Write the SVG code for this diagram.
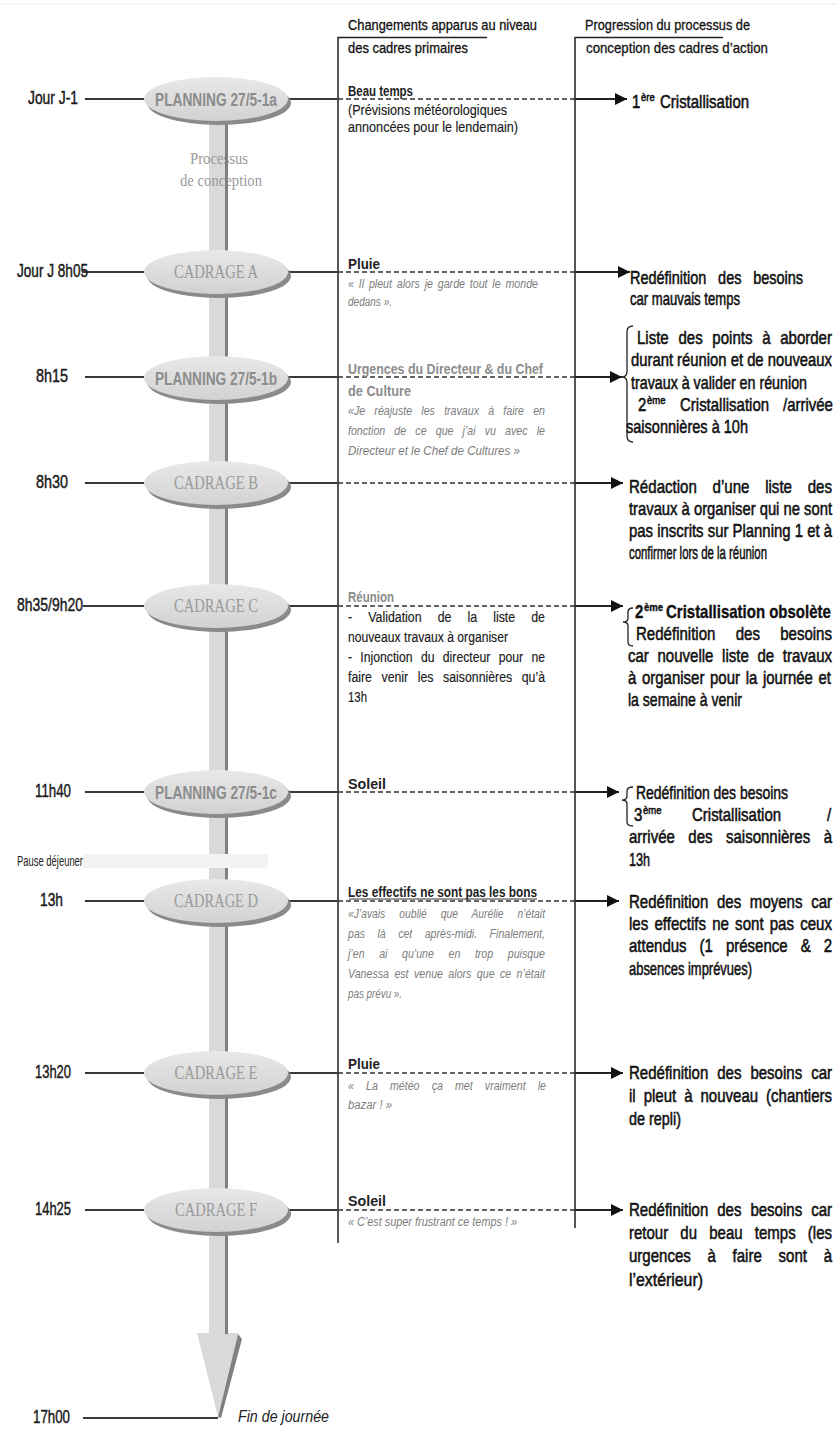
<svg xmlns="http://www.w3.org/2000/svg" width="837" height="1451" viewBox="0 0 837 1451">
<style>
text{font-family:"Liberation Sans",Arial,sans-serif}
.lbl{font-size:18px;fill:#1a1a1a;stroke:#1a1a1a;stroke-width:0.45}
.hdr{font-size:15px;fill:#111;stroke:#111;stroke-width:0.3}
.mid{font-size:14px;fill:#1a1a1a;stroke:#1a1a1a;stroke-width:0.15}
.midb{font-size:14px;fill:#222;font-weight:bold}
.gryb{font-size:14px;fill:#8c8c8c;font-weight:bold}
.quo{font-size:12.5px;fill:#7d7d7d;font-style:italic}
.rt{font-size:15px;fill:#111;stroke:#111;stroke-width:0.45}
.rtb{font-size:15px;fill:#111;font-weight:bold;stroke:#111;stroke-width:0.3}
.sup{font-size:9.5px}
.pl{font-size:18px;fill:#8c8c8c;font-weight:bold}
.cd{font-family:"Liberation Serif",serif;font-size:18px;fill:#9a9a9a}
.proc{font-family:"Liberation Serif",serif;font-size:16px;fill:#9a9a9a}
.ln{stroke:#3a3a3a;stroke-width:2;fill:none}
.dash{stroke:#333;stroke-width:1.5;stroke-dasharray:5 3;fill:none}
.col{stroke:#222;stroke-width:1.5;fill:none}
.arr{stroke:#222;stroke-width:2;fill:none;marker-end:url(#ah)}
.br{stroke:#222;stroke-width:1.3;fill:none}
.sh{fill:#8a8a8a}
.el{fill:url(#eg)}
</style>
<defs>
<linearGradient id="eg" x1="0" y1="0" x2="0" y2="1">
<stop offset="0" stop-color="#e8e8e8"/>
<stop offset="1" stop-color="#d2d2d2"/>
</linearGradient>
<marker id="ah" markerUnits="userSpaceOnUse" markerWidth="14" markerHeight="12" refX="12" refY="6" orient="auto">
<path d="M0,0 L12,6 L0,12 Z" fill="#111"/>
</marker>
</defs>
<rect width="837" height="1451" fill="#fff"/>
<line x1="0" y1="4" x2="837" y2="4" stroke="#ececec" stroke-width="1"/>

<g id="columns">
<path class="col" d="M338,1243 V37.5 H487"/>
<path class="col" d="M575,1228 V37.5 H723"/>
<text class="hdr" x="348" y="30" textLength="189" lengthAdjust="spacingAndGlyphs">Changements apparus au niveau</text>
<text class="hdr" x="348" y="53" textLength="120" lengthAdjust="spacingAndGlyphs">des cadres primaires</text>
<text class="hdr" x="585" y="30" textLength="165" lengthAdjust="spacingAndGlyphs">Progression du processus de</text>
<text class="hdr" x="586" y="53" textLength="182" lengthAdjust="spacingAndGlyphs">conception des cadres d’action</text>
</g>

<g id="trunk">
<rect x="209" y="105" width="16" height="1229" fill="#d9d9d9"/>
<polygon points="197,1333 238,1333 218,1417" fill="#d9d9d9"/>
<polygon points="238,1334 242,1339 221,1418 218,1417" fill="#808080"/>
<text class="proc" x="219" y="164" text-anchor="middle" textLength="58" lengthAdjust="spacingAndGlyphs">Processus</text>
<text class="proc" x="221" y="186" text-anchor="middle" textLength="82" lengthAdjust="spacingAndGlyphs">de conception</text>
<rect x="225" y="110" width="3" height="1224" fill="#808080"/>
<rect x="83" y="854" width="185" height="14" fill="#f3f3f3"/>
<text x="17" y="866" font-size="15" fill="#222" textLength="66" lengthAdjust="spacingAndGlyphs">Pause déjeuner</text>
</g>

<g id="connectors">
<path class="ln" d="M85,99 H144 M288,99 H338"/>
<path class="dash" d="M338,99 H575"/>
<path class="arr" d="M575,99 H627"/>
<path class="ln" d="M82,272 H144 M288,272 H338"/>
<path class="dash" d="M338,272 H575"/>
<path class="arr" d="M575,272 H630"/>
<path class="ln" d="M85,377 H144 M288,377 H338"/>
<path class="dash" d="M338,377 H575"/>
<path class="arr" d="M575,377 H622"/>
<path class="ln" d="M85,483 H144 M288,483 H338"/>
<path class="dash" d="M338,483 H575"/>
<path class="arr" d="M575,483 H623"/>
<path class="ln" d="M83,606 H144 M288,606 H338"/>
<path class="dash" d="M338,606 H575"/>
<path class="arr" d="M575,606 H623"/>
<path class="ln" d="M85,792 H144 M288,792 H338"/>
<path class="dash" d="M338,792 H575"/>
<path class="arr" d="M575,792 H619"/>
<path class="ln" d="M85,901 H144 M288,901 H338"/>
<path class="dash" d="M338,901 H575"/>
<path class="arr" d="M575,901 H619"/>
<path class="ln" d="M85,1073 H144 M288,1073 H338"/>
<path class="dash" d="M338,1073 H575"/>
<path class="arr" d="M575,1073 H623"/>
<path class="ln" d="M85,1210 H144 M288,1210 H338"/>
<path class="dash" d="M338,1210 H575"/>
<path class="arr" d="M575,1210 H623"/>
<path class="ln" d="M83,1418 H218"/>
<path class="br" d="M633,326 Q627,326 627,332 V371 Q627,377 622,377 Q627,377 627,383 V436 Q627,442 633,442"/>
<path class="br" d="M633,608 Q628,608 628,612 V618 Q628,622 623,622 Q628,622 628,626 V642 Q628,646 633,646"/>
<path class="br" d="M633,787 Q627,787 627,791 V796 Q627,800 622,800 Q627,800 627,804 V822 Q627,826 633,826"/>
<path d="M349,899 H537" stroke="#333" stroke-width="1"/>
</g>

<g id="n-planning-1a">
<ellipse class="sh" cx="219" cy="103" rx="72" ry="22"/>
<ellipse class="el" cx="216" cy="99" rx="72" ry="22"/>
<text class="pl" x="216" y="106" text-anchor="middle" textLength="122" lengthAdjust="spacingAndGlyphs">PLANNING 27/5-1a</text>
<text class="lbl" x="28" y="104" textLength="50" lengthAdjust="spacingAndGlyphs">Jour J-1</text>
<text class="midb" x="348" y="96" textLength="65" lengthAdjust="spacingAndGlyphs">Beau temps</text>
<text class="mid" x="348" y="115" textLength="159" lengthAdjust="spacingAndGlyphs">(Prévisions météorologiques</text>
<text class="mid" x="348" y="132" textLength="170" lengthAdjust="spacingAndGlyphs">annoncées pour le lendemain)</text>
<text class="rt" y="0" transform="translate(0 108) scale(1 1.2)"><tspan x="632">1</tspan><tspan class="sup" x="641" dy="-5.5">ère</tspan><tspan x="660" dy="5.5">Cristallisation</tspan></text>
</g>

<g id="n-cadrage-a">
<ellipse class="sh" cx="219" cy="276" rx="72" ry="22"/>
<ellipse class="el" cx="216" cy="272" rx="72" ry="22"/>
<text class="cd" x="216" y="278" text-anchor="middle" textLength="84" lengthAdjust="spacingAndGlyphs">CADRAGE A</text>
<text class="lbl" x="17" y="277" textLength="71" lengthAdjust="spacingAndGlyphs">Jour J 8h05</text>
<text class="midb" x="348" y="269" textLength="32" lengthAdjust="spacingAndGlyphs">Pluie</text>
<text class="quo" x="348" y="288" word-spacing="2.2" textLength="190" lengthAdjust="spacingAndGlyphs">« Il pleut alors je garde tout le monde</text>
<text class="quo" x="348" y="306" textLength="44" lengthAdjust="spacingAndGlyphs">dedans ».</text>
<text class="rt" x="630" y="0" transform="translate(0 284) scale(1 1.2)" word-spacing="8" textLength="173" lengthAdjust="spacingAndGlyphs">Redéfinition des besoins</text>
<text class="rt" x="630" y="0" transform="translate(0 305) scale(1 1.2)" textLength="110" lengthAdjust="spacingAndGlyphs">car mauvais temps</text>
</g>

<g id="n-planning-1b">
<ellipse class="sh" cx="219" cy="382" rx="72" ry="22"/>
<ellipse class="el" cx="216" cy="378" rx="72" ry="22"/>
<text class="pl" x="216" y="385" text-anchor="middle" textLength="122" lengthAdjust="spacingAndGlyphs">PLANNING 27/5-1b</text>
<text class="lbl" x="36" y="382" textLength="32" lengthAdjust="spacingAndGlyphs">8h15</text>
<text class="gryb" x="348" y="374" textLength="195" lengthAdjust="spacingAndGlyphs">Urgences du Directeur &amp; du Chef</text>
<text class="gryb" x="348" y="396" textLength="63" lengthAdjust="spacingAndGlyphs">de Culture</text>
<text class="quo" x="348" y="415" word-spacing="7.4" textLength="197" lengthAdjust="spacingAndGlyphs">«Je réajuste les travaux à faire en</text>
<text class="quo" x="348" y="435" word-spacing="7.3" textLength="197" lengthAdjust="spacingAndGlyphs">fonction de ce que j’ai vu avec le</text>
<text class="quo" x="348" y="455" textLength="172" lengthAdjust="spacingAndGlyphs">Directeur et le Chef de Cultures »</text>
<text class="rt" x="637" y="0" transform="translate(0 344) scale(1 1.2)" word-spacing="5.5" textLength="195" lengthAdjust="spacingAndGlyphs">Liste des points à aborder</text>
<text class="rt" x="631" y="0" transform="translate(0 366) scale(1 1.2)" textLength="201" lengthAdjust="spacingAndGlyphs">durant réunion et de nouveaux</text>
<text class="rt" x="631" y="0" transform="translate(0 389) scale(1 1.2)" textLength="176" lengthAdjust="spacingAndGlyphs">travaux à valider en réunion</text>
<text class="rt" y="0" transform="translate(0 411) scale(1 1.2)"><tspan x="638">2</tspan><tspan class="sup" x="647" dy="-5.5">ème</tspan><tspan x="680" dy="5.5">Cristallisation</tspan><tspan x="783">/arrivée</tspan></text>
<text class="rt" x="626" y="0" transform="translate(0 433) scale(1 1.2)" textLength="122" lengthAdjust="spacingAndGlyphs">saisonnières à 10h</text>
</g>

<g id="n-cadrage-b">
<ellipse class="sh" cx="219" cy="487" rx="72" ry="22"/>
<ellipse class="el" cx="216" cy="483" rx="72" ry="22"/>
<text class="cd" x="216" y="489" text-anchor="middle" textLength="84" lengthAdjust="spacingAndGlyphs">CADRAGE B</text>
<text class="lbl" x="36" y="488" textLength="32" lengthAdjust="spacingAndGlyphs">8h30</text>
<text class="rt" x="629" y="0" transform="translate(0 493) scale(1 1.2)" word-spacing="11.5" textLength="203" lengthAdjust="spacingAndGlyphs">Rédaction d’une liste des</text>
<text class="rt" x="629" y="0" transform="translate(0 515) scale(1 1.2)" textLength="203" lengthAdjust="spacingAndGlyphs">travaux à organiser qui ne sont</text>
<text class="rt" x="629" y="0" transform="translate(0 537) scale(1 1.2)" textLength="203" lengthAdjust="spacingAndGlyphs">pas inscrits sur Planning 1 et à</text>
<text class="rt" x="629" y="0" transform="translate(0 559) scale(1 1.2)" textLength="138" lengthAdjust="spacingAndGlyphs">confirmer lors de la réunion</text>
</g>

<g id="n-cadrage-c">
<ellipse class="sh" cx="219" cy="610" rx="72" ry="22"/>
<ellipse class="el" cx="216" cy="606" rx="72" ry="22"/>
<text class="cd" x="216" y="612" text-anchor="middle" textLength="84" lengthAdjust="spacingAndGlyphs">CADRAGE C</text>
<text class="lbl" x="17" y="611" textLength="66" lengthAdjust="spacingAndGlyphs">8h35/9h20</text>
<text class="gryb" x="348" y="602" textLength="46" lengthAdjust="spacingAndGlyphs">Réunion</text>
<text class="mid" x="348" y="622" word-spacing="14.3" textLength="197" lengthAdjust="spacingAndGlyphs">- Validation de la liste de</text>
<text class="mid" x="348" y="642" textLength="160" lengthAdjust="spacingAndGlyphs">nouveaux travaux à organiser</text>
<text class="mid" x="348" y="662" word-spacing="5.6" textLength="197" lengthAdjust="spacingAndGlyphs">- Injonction du directeur pour ne</text>
<text class="mid" x="348" y="682" word-spacing="7" textLength="197" lengthAdjust="spacingAndGlyphs">faire venir les saisonnières qu’à</text>
<text class="mid" x="348" y="702" textLength="19" lengthAdjust="spacingAndGlyphs">13h</text>
<text class="rtb" y="0" transform="translate(0 618) scale(1 1.2)"><tspan x="635">2</tspan><tspan class="sup" x="644" dy="-5.5">ème</tspan><tspan x="666" dy="5.5">Cristallisation obsolète</tspan></text>
<text class="rt" x="636" y="0" transform="translate(0 640) scale(1 1.2)" word-spacing="16" textLength="196" lengthAdjust="spacingAndGlyphs">Redéfinition des besoins</text>
<text class="rt" x="628" y="0" transform="translate(0 662) scale(1 1.2)" word-spacing="4.5" textLength="204" lengthAdjust="spacingAndGlyphs">car nouvelle liste de travaux</text>
<text class="rt" x="628" y="0" transform="translate(0 684) scale(1 1.2)" word-spacing="1.5" textLength="203" lengthAdjust="spacingAndGlyphs">à organiser pour la journée et</text>
<text class="rt" x="628" y="0" transform="translate(0 706) scale(1 1.2)" textLength="114" lengthAdjust="spacingAndGlyphs">la semaine à venir</text>
</g>

<g id="n-planning-1c">
<ellipse class="sh" cx="219" cy="796" rx="72" ry="22"/>
<ellipse class="el" cx="216" cy="792" rx="72" ry="22"/>
<text class="pl" x="216" y="799" text-anchor="middle" textLength="122" lengthAdjust="spacingAndGlyphs">PLANNING 27/5-1c</text>
<text class="lbl" x="35" y="797" textLength="36" lengthAdjust="spacingAndGlyphs">11h40</text>
<text class="midb" x="348" y="789" textLength="38" lengthAdjust="spacingAndGlyphs">Soleil</text>
<text class="rt" x="636" y="0" transform="translate(0 799) scale(1 1.2)" textLength="152" lengthAdjust="spacingAndGlyphs">Redéfinition des besoins</text>
<text class="rt" y="0" transform="translate(0 821) scale(1 1.2)"><tspan x="634">3</tspan><tspan class="sup" x="643" dy="-5.5">ème</tspan><tspan x="692" dy="5.5">Cristallisation</tspan><tspan x="827">/</tspan></text>
<text class="rt" x="629" y="0" transform="translate(0 843) scale(1 1.2)" word-spacing="9.3" textLength="203" lengthAdjust="spacingAndGlyphs">arrivée des saisonnières à</text>
<text class="rt" x="629" y="0" transform="translate(0 866) scale(1 1.2)" textLength="21" lengthAdjust="spacingAndGlyphs">13h</text>
</g>

<g id="n-cadrage-d">
<ellipse class="sh" cx="219" cy="905" rx="72" ry="22"/>
<ellipse class="el" cx="216" cy="901" rx="72" ry="22"/>
<text class="cd" x="216" y="907" text-anchor="middle" textLength="84" lengthAdjust="spacingAndGlyphs">CADRAGE D</text>
<text class="lbl" x="40" y="906" textLength="23" lengthAdjust="spacingAndGlyphs">13h</text>
<text class="midb" x="348" y="897" textLength="189" lengthAdjust="spacingAndGlyphs">Les effectifs ne sont pas les bons</text>
<text class="quo" x="348" y="918" word-spacing="13.4" textLength="197" lengthAdjust="spacingAndGlyphs">«J’avais oublié que Aurélie n’était</text>
<text class="quo" x="348" y="938" word-spacing="11.1" textLength="197" lengthAdjust="spacingAndGlyphs">pas là cet après-midi. Finalement,</text>
<text class="quo" x="348" y="958" word-spacing="13.7" textLength="197" lengthAdjust="spacingAndGlyphs">j’en ai qu’une en trop puisque</text>
<text class="quo" x="348" y="978" word-spacing="2.9" textLength="197" lengthAdjust="spacingAndGlyphs">Vanessa est venue alors que ce n’était</text>
<text class="quo" x="348" y="998" textLength="54" lengthAdjust="spacingAndGlyphs">pas prévu ».</text>
<text class="rt" x="629" y="0" transform="translate(0 908) scale(1 1.2)" word-spacing="4.5" textLength="203" lengthAdjust="spacingAndGlyphs">Redéfinition des moyens car</text>
<text class="rt" x="629" y="0" transform="translate(0 930) scale(1 1.2)" word-spacing="2" textLength="203" lengthAdjust="spacingAndGlyphs">les effectifs ne sont pas ceux</text>
<text class="rt" x="629" y="0" transform="translate(0 952) scale(1 1.2)" word-spacing="8.8" textLength="203" lengthAdjust="spacingAndGlyphs">attendus (1 présence &amp; 2</text>
<text class="rt" x="629" y="0" transform="translate(0 975) scale(1 1.2)" textLength="123" lengthAdjust="spacingAndGlyphs">absences imprévues)</text>
</g>

<g id="n-cadrage-e">
<ellipse class="sh" cx="219" cy="1077" rx="72" ry="22"/>
<ellipse class="el" cx="216" cy="1073" rx="72" ry="22"/>
<text class="cd" x="216" y="1079" text-anchor="middle" textLength="83" lengthAdjust="spacingAndGlyphs">CADRAGE E</text>
<text class="lbl" x="35" y="1078" textLength="36" lengthAdjust="spacingAndGlyphs">13h20</text>
<text class="midb" x="348" y="1069" textLength="32" lengthAdjust="spacingAndGlyphs">Pluie</text>
<text class="quo" x="348" y="1090" word-spacing="10.8" textLength="198" lengthAdjust="spacingAndGlyphs">« La météo ça met vraiment le</text>
<text class="quo" x="348" y="1109" textLength="44" lengthAdjust="spacingAndGlyphs">bazar ! »</text>
<text class="rt" x="629" y="0" transform="translate(0 1079) scale(1 1.2)" word-spacing="4.8" textLength="203" lengthAdjust="spacingAndGlyphs">Redéfinition des besoins car</text>
<text class="rt" x="629" y="0" transform="translate(0 1102) scale(1 1.2)" word-spacing="3.8" textLength="203" lengthAdjust="spacingAndGlyphs">il pleut à nouveau (chantiers</text>
<text class="rt" x="629" y="0" transform="translate(0 1125) scale(1 1.2)" textLength="52" lengthAdjust="spacingAndGlyphs">de repli)</text>
</g>

<g id="n-cadrage-f">
<ellipse class="sh" cx="219" cy="1214" rx="72" ry="22"/>
<ellipse class="el" cx="216" cy="1210" rx="72" ry="22"/>
<text class="cd" x="216" y="1216" text-anchor="middle" textLength="82" lengthAdjust="spacingAndGlyphs">CADRAGE F</text>
<text class="lbl" x="35" y="1215" textLength="36" lengthAdjust="spacingAndGlyphs">14h25</text>
<text class="midb" x="348" y="1206" textLength="38" lengthAdjust="spacingAndGlyphs">Soleil</text>
<text class="quo" x="348" y="1226" textLength="169" lengthAdjust="spacingAndGlyphs">« C’est super frustrant ce temps ! »</text>
<text class="rt" x="629" y="0" transform="translate(0 1216) scale(1 1.2)" word-spacing="4.8" textLength="203" lengthAdjust="spacingAndGlyphs">Redéfinition des besoins car</text>
<text class="rt" x="629" y="0" transform="translate(0 1239) scale(1 1.2)" word-spacing="8" textLength="203" lengthAdjust="spacingAndGlyphs">retour du beau temps (les</text>
<text class="rt" x="629" y="0" transform="translate(0 1262) scale(1 1.2)" word-spacing="12.5" textLength="203" lengthAdjust="spacingAndGlyphs">urgences à faire sont à</text>
<text class="rt" x="629" y="0" transform="translate(0 1286) scale(1 1.2)" textLength="74" lengthAdjust="spacingAndGlyphs">l’extérieur)</text>
</g>

<g id="n-end">
<text class="lbl" x="33" y="1423" textLength="37" lengthAdjust="spacingAndGlyphs">17h00</text>
<text x="238" y="1422" font-size="16" font-style="italic" fill="#222" textLength="91" lengthAdjust="spacingAndGlyphs">Fin de journée</text>
</g>
</svg>
